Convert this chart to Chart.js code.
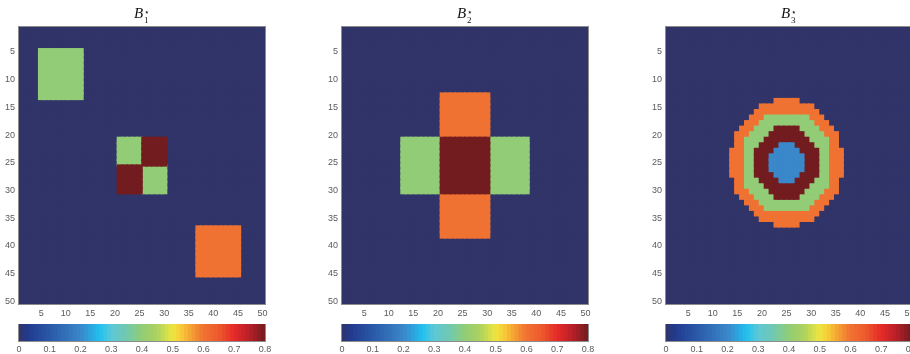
<!DOCTYPE html>
<html>
<head>
<meta charset="utf-8">
<script src="https://cdn.jsdelivr.net/npm/chart.js@4.4.1/dist/chart.umd.min.js"></script>
<style>
  html, body { margin: 0; padding: 0; background: #fff; width: 910px; height: 354px; overflow: hidden; }
  canvas { position: absolute; }
  .title { position: absolute; top: 4px; transform: translateX(-50%); white-space: nowrap;
           font-family: 'Liberation Serif', 'DejaVu Serif', serif; font-size: 15px; line-height: 18px; color: #111; }
  .ss { display: inline-block; vertical-align: -5px; font-size: 9px; line-height: 8px; margin-left: 1px; font-style: normal; }
  .ss span { display: block; }
</style>
</head>
<body>
<script>
// grid size and ticks
const gridSize = 50;
const axisTicks = [5, 10, 15, 20, 25, 30, 35, 40, 45, 50];
const cbTicks = [0, 0.1, 0.2, 0.3, 0.4, 0.5, 0.6, 0.7, 0.8];
const cbTickLabels = ['0', '0.1', '0.2', '0.3', '0.4', '0.5', '0.6', '0.7', '0.8'];
const titleSubs = ['1', '2', '3'];

// colormap (value -> colour)
const cmapStops = [0, 0.03, 0.1, 0.2, 0.24, 0.265, 0.3, 0.35, 0.4, 0.45, 0.5, 0.53, 0.56, 0.6, 0.65, 0.7, 0.75, 0.8];
const cmapColors = ['#313469', '#223a8e', '#2a58a8', '#3a87c9', '#2aaae2', '#22c2f0', '#5cc8d8', '#70c8b0',
                    '#92cc76', '#acd260', '#ede640', '#f8c838', '#f4a232', '#f07232', '#ec5a2c', '#e62a28',
                    '#b82028', '#721c20'];
const cbLevels = 64;

// B1: blocks [rowFrom, rowTo, colFrom, colTo, value]
const b1Blocks = [
  [5, 13, 5, 13, 0.4],
  [21, 25, 21, 25, 0.4],
  [21, 25, 26, 30, 0.8],
  [26, 30, 21, 25, 0.8],
  [26, 30, 26, 30, 0.4],
  [37, 45, 37, 45, 0.6]
];

// B2: cross
const b2Blocks = [
  [13, 20, 21, 30, 0.6],
  [21, 30, 13, 20, 0.4],
  [21, 30, 21, 30, 0.8],
  [21, 30, 31, 38, 0.4],
  [31, 38, 21, 30, 0.6]
];

// B3: rings, outer to inner; half widths per row around column 25
const ringCenterCol = 25;
const ringValues = [0.6, 0.4, 0.8, 0.2];
const ringTopRows = [14, 17, 19, 22];
const ringHalfWidths = [
  [2, 5, 6, 7, 8, 9, 10, 10, 10, 11, 11, 11, 11, 11, 10, 10, 10, 9, 8, 7, 6, 5, 2],
  [4, 5, 6, 7, 8, 8, 8, 8, 8, 8, 8, 8, 8, 7, 6, 5, 4],
  [2, 3, 4, 5, 6, 6, 6, 6, 6, 5, 4, 3, 2],
  [1, 2, 3, 3, 3, 2, 1]
];

const plotLefts = [19, 342, 666];
const plotW = 246;

function hexRgb(h) {
  return [parseInt(h.slice(1, 3), 16), parseInt(h.slice(3, 5), 16), parseInt(h.slice(5, 7), 16)];
}
function cmap(v) {
  for (let i = 0; i < cmapStops.length - 1; i++) {
    if (v <= cmapStops[i + 1]) {
      const t = (v - cmapStops[i]) / (cmapStops[i + 1] - cmapStops[i]);
      const a = hexRgb(cmapColors[i]), b = hexRgb(cmapColors[i + 1]);
      const c = a.map((x, k) => Math.round(x + (b[k] - x) * t));
      return 'rgb(' + c.join(',') + ')';
    }
  }
  return cmapColors[cmapColors.length - 1];
}

function blankMatrix() {
  return Array.from({length: gridSize}, () => Array(gridSize).fill(0));
}
function paintBlocks(m, blocks) {
  blocks.forEach(([r0, r1, c0, c1, v]) => {
    for (let r = r0; r <= r1; r++) for (let c = c0; c <= c1; c++) m[r - 1][c - 1] = v;
  });
  return m;
}
function paintRings(m) {
  ringValues.forEach((v, k) => {
    ringHalfWidths[k].forEach((hw, i) => {
      const r = ringTopRows[k] + i;
      for (let c = ringCenterCol - hw; c <= ringCenterCol + hw; c++) m[r - 1][c - 1] = v;
    });
  });
  return m;
}

const matrices = [
  paintBlocks(blankMatrix(), b1Blocks),
  paintBlocks(blankMatrix(), b2Blocks),
  paintRings(blankMatrix())
];
// order in which value layers are drawn (background first)
const layerOrder = [
  [0, 0.4, 0.8, 0.6],
  [0, 0.6, 0.4, 0.8],
  [0].concat(ringValues)
];

// thin grey box round the plot area
const frame = {
  id: 'frame',
  afterDraw(chart) {
    const a = chart.chartArea, ctx = chart.ctx;
    ctx.save();
    ctx.strokeStyle = '#8c8c8c';
    ctx.lineWidth = 1;
    ctx.strokeRect(Math.round(a.left) - 0.5, Math.round(a.top) - 0.5,
                   Math.round(a.right - a.left) + 1, Math.round(a.bottom - a.top) + 1);
    ctx.restore();
  }
};

const tickFont = {family: "'Liberation Sans', Arial, sans-serif", size: 9};
const tickColor = '#5a5a5a';

function addCanvas(left, top, w, h) {
  const c = document.createElement('canvas');
  c.width = w; c.height = h;
  c.style.left = left + 'px'; c.style.top = top + 'px';
  c.style.width = w + 'px'; c.style.height = h + 'px';
  document.body.appendChild(c);
  return c;
}

function drawHeatmap(idx) {
  const m = matrices[idx];
  const layers = layerOrder[idx];
  const ov = 0.2; // overlap so neighbouring cells leave no seams
  const colLabels = Array.from({length: gridSize}, (_, i) => String(i + 1));
  const datasets = [];
  layers.forEach((v, li) => {
    m.forEach((row, r) => {
      if (!row.includes(v)) return;
      datasets.push({
        data: row.map(x => x === v ? [r + 1 - 0.5 - ov, r + 1 + 0.5 + ov] : null),
        backgroundColor: cmap(v),
        borderWidth: 0,
        order: layers.length - li
      });
    });
  });
  const cv = addCanvas(plotLefts[idx] - 19, 0, 19 + plotW + 8, 322);
  new Chart(cv.getContext('2d'), {
    type: 'bar',
    data: {labels: colLabels, datasets},
    options: {
      responsive: false, animation: false, events: [],
      layout: {padding: {top: 27, right: 8, left: 0, bottom: 0}},
      plugins: {legend: {display: false}, tooltip: {enabled: false}},
      datasets: {bar: {grouped: false, barPercentage: 1.3, categoryPercentage: 1}},
      scales: {
        x: {
          type: 'category', offset: true,
          grid: {display: false, drawTicks: false}, border: {display: false},
          ticks: {autoSkip: false, maxRotation: 0, padding: 4, color: tickColor, font: tickFont,
                  callback: (v, i) => axisTicks.includes(i + 1) ? String(i + 1) : ''},
          afterFit: s => { s.height = 18; }
        },
        y: {
          type: 'linear', reverse: true, min: 0.5, max: gridSize + 0.5,
          grid: {display: false, drawTicks: false}, border: {display: false},
          afterBuildTicks: s => { s.ticks = axisTicks.map(v => ({value: v})); },
          ticks: {padding: 4, color: tickColor, font: tickFont, callback: v => String(v)},
          afterFit: s => { s.width = 19; }
        }
      }
    },
    plugins: [frame]
  });

  const t = document.createElement('div');
  t.className = 'title';
  t.style.left = (plotLefts[idx] + plotW / 2) + 'px';
  t.innerHTML = '<i>B</i><span class="ss"><span>\u22C6</span><span>' + titleSubs[idx] + '</span></span>';
  document.body.appendChild(t);
}

function drawColorbar(idx) {
  const step = 0.8 / cbLevels;
  const datasets = [];
  for (let i = 0; i < cbLevels; i++) {
    datasets.push({
      data: [[i * step, (i + 1) * step + 0.004]],
      backgroundColor: cmap((i + 0.5) * step),
      borderWidth: 0,
      order: cbLevels - i
    });
  }
  const cv = addCanvas(plotLefts[idx] - 12, 324, 12 + plotW + 12, 30);
  new Chart(cv.getContext('2d'), {
    type: 'bar',
    data: {labels: ['cb'], datasets},
    options: {
      indexAxis: 'y',
      responsive: false, animation: false, events: [],
      layout: {padding: {top: 0, right: 12, left: 12, bottom: 0}},
      plugins: {legend: {display: false}, tooltip: {enabled: false}},
      datasets: {bar: {grouped: false, barPercentage: 1, categoryPercentage: 1}},
      scales: {
        y: {display: false},
        x: {
          type: 'linear', min: 0, max: 0.8,
          grid: {display: false, drawTicks: false}, border: {display: false},
          afterBuildTicks: s => { s.ticks = cbTicks.map(v => ({value: v})); },
          ticks: {padding: 3, color: tickColor, font: tickFont,
                  callback: (v, i) => cbTickLabels[i]},
          afterFit: s => { s.height = 13; }
        }
      }
    },
    plugins: [frame]
  });
}

[0, 1, 2].forEach(i => { drawHeatmap(i); drawColorbar(i); });
</script>
</body>
</html>
